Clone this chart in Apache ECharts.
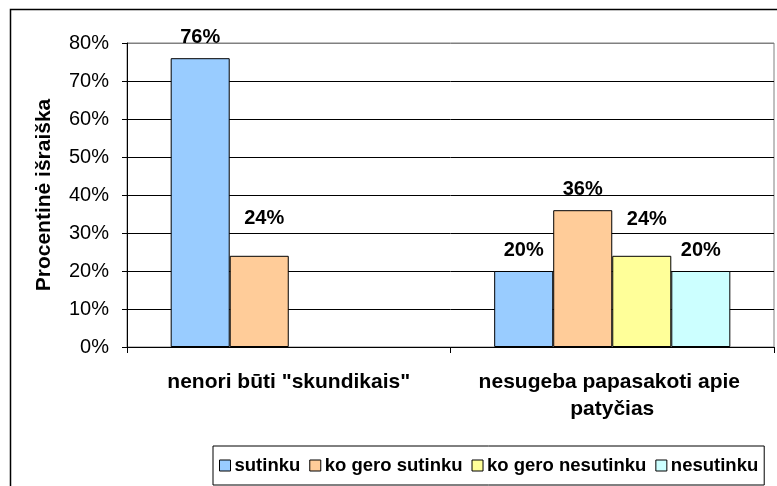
<!DOCTYPE html>
<html>
<head>
<meta charset="utf-8">
<script src="https://cdn.jsdelivr.net/npm/echarts@6/dist/echarts.min.js"></script>
<style>
  html, body { margin: 0; padding: 0; background: #fff; }
  #chart { width: 777px; height: 486px; }
</style>
</head>
<body>
<div id="chart"></div>
<script>
const categories = ['nenori būti "skundikais"', 'nesugeba papasakoti apie patyčias']
const seriesNames = ['sutinku', 'ko gero sutinku', 'ko gero nesutinku', 'nesutinku']
const sutinku = [76, 20]
const koGeroSutinku = [24, 36]
const koGeroNesutinku = [null, 24]
const nesutinku = [null, 20]
const yTicks = [0, 10, 20, 30, 40, 50, 60, 70, 80]

const colors = ['#99ccff', '#ffcc99', '#ffff99', '#ccffff']
const values = [sutinku, koGeroSutinku, koGeroNesutinku, nesutinku]
// Excel lifted some labels higher to avoid overlap
const extraLift = { '1-0': 16, '2-1': 15 }

const font = 'Liberation Sans, Arial, sans-serif'

const chart = echarts.init(document.getElementById('chart'))

const series = values.map((vals, si) => ({
  name: seriesNames[si],
  type: 'bar',
  barGap: '0%',
  barCategoryGap: '27%',
  itemStyle: { color: colors[si], borderColor: '#000', borderWidth: 1 },
  label: {
    show: true,
    position: 'top',
    distance: 11,
    formatter: '{c}%',
    color: '#000',
    fontFamily: font,
    fontWeight: 'bold',
    fontSize: 20
  },
  data: vals.map((v, ci) => {
    const lift = extraLift[si + '-' + ci]
    return lift ? { value: v, label: { distance: 11 + lift, offset: [5, 0] } } : v
  })
}))

chart.setOption({
  animation: false,
  textStyle: { fontFamily: font },
  graphic: [{
    type: 'rect',
    shape: { x: 10.5, y: 9.5, width: 800, height: 520 },
    style: { fill: 'none', stroke: '#000', lineWidth: 1.5 },
    silent: true
  }],
  grid: {
    left: 127, right: 3, top: 43, bottom: 139,
    show: true, borderColor: '#808080', borderWidth: 1
  },
  legend: {
    data: seriesNames,
    left: 213, top: 446,
    icon: 'rect',
    itemWidth: 11, itemHeight: 11,
    itemGap: 9,
    borderColor: '#000', borderWidth: 1,
    padding: [10, 6, 10, 6],
    itemStyle: { borderColor: '#000', borderWidth: 1 },
    textStyle: { color: '#000', fontFamily: font, fontWeight: 'bold', fontSize: 18.5, padding: [0, 0, 0, -1] }
  },
  xAxis: {
    type: 'category',
    data: categories,
    axisLine: { lineStyle: { color: '#000' } },
    axisTick: { show: true, length: 6, lineStyle: { color: '#000' } },
    axisLabel: {
      interval: 0,
      margin: 22,
      color: '#000',
      fontFamily: font,
      fontWeight: 'bold',
      fontSize: 21,
      lineHeight: 27,
      width: 300,
      overflow: 'break'
    }
  },
  yAxis: {
    type: 'value',
    min: yTicks[0],
    max: yTicks[yTicks.length - 1],
    interval: 10,
    name: 'Procentinė išraiška',
    nameLocation: 'middle',
    nameGap: 72,
    nameTextStyle: { color: '#000', fontFamily: font, fontWeight: 'bold', fontSize: 21 },
    axisLine: { show: true, lineStyle: { color: '#000' } },
    axisTick: { show: true, length: 5, lineStyle: { color: '#000' } },
    axisLabel: { formatter: '{value}%', margin: 18, color: '#000', fontFamily: font, fontSize: 20 },
    splitLine: {
      show: true,
      lineStyle: { color: ['#000', '#000', '#000', '#000', '#000', '#000', '#000', '#000', '#808080'], width: 1 }
    }
  },
  series
})
</script>
</body>
</html>
